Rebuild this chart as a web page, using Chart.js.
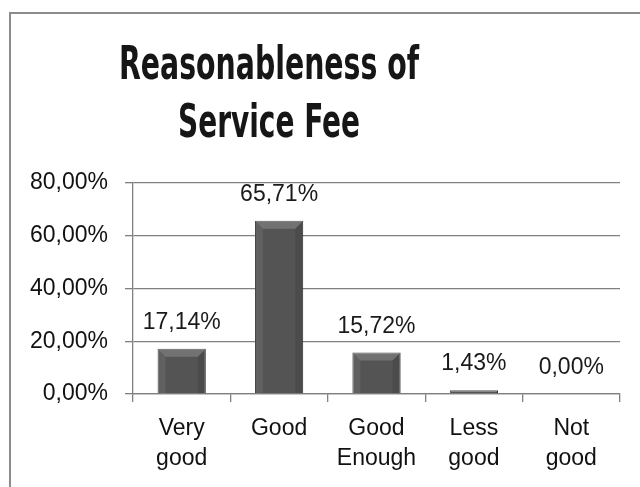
<!DOCTYPE html>
<html>
<head>
<meta charset="utf-8">
<script src="https://cdn.jsdelivr.net/npm/chart.js@4/dist/chart.umd.min.js"></script>
<style>
  html, body { margin: 0; padding: 0; background: #fff; }
  #wrap { position: relative; width: 640px; height: 487px; }
  #frame { position: absolute; left: 9px; top: 12px; right: -5px; bottom: -5px;
           border-left: 2px solid #8c8c8c; border-top: 2px solid #8c8c8c; pointer-events: none; }
</style>
</head>
<body>
<div id="wrap">
  <canvas id="chart" width="640" height="487"></canvas>
  <div id="frame"></div>
</div>
<script>
var titleLines = ['Reasonableness of', 'Service Fee']
var categories = [['Very', 'good'], ['Good'], ['Good', 'Enough'], ['Less', 'good'], ['Not', 'good']]
var values = [17.14, 65.71, 15.72, 1.43, 0.00]
var yTicks = [0, 20, 40, 60, 80]

function pct(v){
  return v.toFixed(2).replace('.', ',') + '%'
}

var fontFamily = "'Liberation Sans', Arial, sans-serif"

// title drawn off-centre like the cropped original
var titlePlugin = {
  id: 'sideTitle',
  afterDraw: function(chart){
    var ctx = chart.ctx
    ctx.save()
    ctx.fillStyle = '#161616'
    ctx.textAlign = 'center'
    ctx.textBaseline = 'alphabetic'
    ctx.font = "bold 47px 'Liberation Sans Narrow', 'DejaVu Sans Condensed', 'Liberation Sans', sans-serif"
    var baselines = [79, 137]
    var widths = [300, 182]
    titleLines.forEach(function(line, i){
      var w = ctx.measureText(line).width
      var sx = widths[i] / w
      ctx.save()
      ctx.translate(269, baselines[i])
      ctx.scale(sx, 1)
      ctx.fillText(line, 0, 0)
      ctx.restore()
    })
    ctx.restore()
  }
}

// soft bevel on the bars, then the value labels
var labelPlugin = {
  id: 'barLabels',
  afterDatasetsDraw: function(chart){
    var ctx = chart.ctx
    var meta = chart.getDatasetMeta(0)
    ctx.save()
    meta.data.forEach(function(bar){
      var h = bar.base - bar.y
      if (h < 2) return
      var l = bar.x - bar.width / 2, r = bar.x + bar.width / 2
      var t = bar.y, b = bar.base
      var d = Math.min(8, h / 2)
      ctx.fillStyle = 'rgba(255,255,255,0.18)'
      ctx.beginPath()
      ctx.moveTo(l, t); ctx.lineTo(r, t); ctx.lineTo(r - d, t + d); ctx.lineTo(l + d, t + d); ctx.closePath()
      ctx.fill()
      ctx.fillStyle = 'rgba(255,255,255,0.07)'
      ctx.beginPath()
      ctx.moveTo(l, t); ctx.lineTo(l + d, t + d); ctx.lineTo(l + d, b); ctx.lineTo(l, b); ctx.closePath()
      ctx.fill()
      ctx.fillStyle = 'rgba(0,0,0,0.10)'
      ctx.beginPath()
      ctx.moveTo(r, t); ctx.lineTo(r - d, t + d); ctx.lineTo(r - d, b); ctx.lineTo(r, b); ctx.closePath()
      ctx.fill()
    })
    ctx.fillStyle = '#1a1a1a'
    ctx.font = '23px ' + fontFamily
    ctx.textAlign = 'center'
    ctx.textBaseline = 'alphabetic'
    meta.data.forEach(function(bar, i){
      ctx.fillText(pct(values[i]), bar.x, bar.y - 20)
    })
    ctx.restore()
  }
}

var chart = new Chart(document.getElementById('chart').getContext('2d'), {
  type: 'bar',
  data: {
    labels: categories,
    datasets: [{
      data: values,
      backgroundColor: '#545454',
      borderColor: '#3a3a3a',
      borderWidth: 1,
      barPercentage: 0.495,
      categoryPercentage: 1
    }]
  },
  options: {
    responsive: false,
    animation: false,
    layout: { padding: { top: 183, right: 20, left: 0, bottom: 0 } },
    plugins: {
      legend: { display: false },
      tooltip: { enabled: false },
      title: { display: false }
    },
    scales: {
      x: {
        offset: true,
        grid: { offset: true, drawOnChartArea: false, tickLength: 8, color: '#808080', lineWidth: 1.3 },
        border: { color: '#808080', width: 1.3 },
        ticks: {
          color: '#111',
          padding: 12,
          maxRotation: 0,
          font: { family: fontFamily, size: 23, lineHeight: 1.3 }
        },
        afterFit: function(scale){ scale.height = 93 }
      },
      y: {
        min: 0,
        max: 80,
        afterBuildTicks: function(scale){
          scale.ticks = yTicks.map(function(v){ return { value: v } })
        },
        grid: { tickLength: 8, color: '#808080', lineWidth: 1.3 },
        border: { color: '#808080', width: 1.3 },
        ticks: {
          color: '#111',
          padding: 17,
          font: { family: fontFamily, size: 23 },
          callback: function(v){ return pct(v) }
        },
        afterFit: function(scale){ scale.width = 133 }
      }
    }
  },
  plugins: [titlePlugin, labelPlugin]
})
</script>
</body>
</html>
